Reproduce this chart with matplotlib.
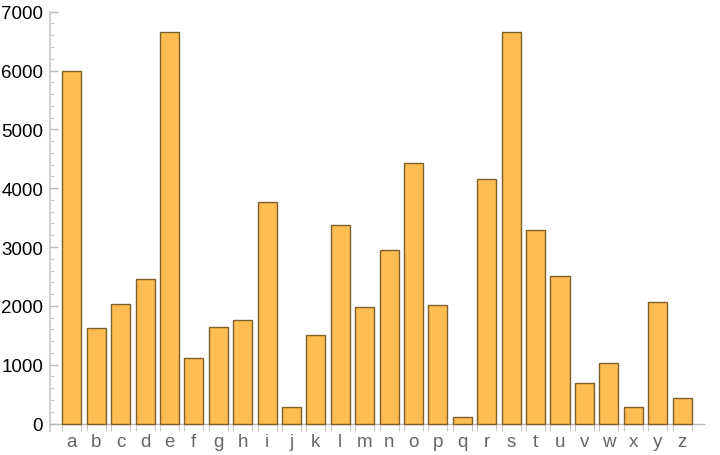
import numpy as np
import matplotlib
matplotlib.use('Agg')
import matplotlib.pyplot as plt

letters = list('abcdefghijklmnopqrstuvwxyz')
counts = [5997, 1626, 2024, 2449, 6660, 1116, 1643, 1762, 3758, 289, 1502, 3367, 1973,
          2953, 4432, 2017, 112, 4155, 6660, 3293, 2510, 690, 1037, 289, 2068, 435]

plt.rcParams['font.family'] = ['Liberation Sans', 'DejaVu Sans']

fig = plt.figure(figsize=(7.2, 4.56), dpi=100)
ax = fig.add_axes([50 / 720, 1 - 432 / 456, 654 / 720, 419.3 / 456])

x = np.arange(1, len(letters) + 1)
width = 0.78
ax.bar(x, counts, width=width, color='#fdbd52', edgecolor='#7d5f2e', linewidth=1.0, zorder=3)

ax.set_xlim(0.107, 26.9)
ax.set_ylim(-127, 7000)

for s in ['top', 'right']:
    ax.spines[s].set_visible(False)
ax.spines['bottom'].set_position(('data', 0))
ax.spines['bottom'].set_color('#b8b8b8')
ax.spines['left'].set_color('#cfcfcf')
ax.spines['left'].set_linewidth(1.4)
ax.spines['bottom'].set_linewidth(1.0)

# y ticks
ax.set_yticks(np.arange(0, 7001, 1000))
ax.set_yticks(np.arange(0, 7001, 200), minor=True)
ax.tick_params(axis='y', which='major', direction='in', length=6, width=1, color='#b8b8b8',
               labelsize=13.5, labelcolor='black', pad=5)
ax.tick_params(axis='y', which='minor', direction='in', length=3, width=0.8, color='#c8c8c8')

# x ticks: labels at centres, tick marks at bar edges
ax.set_xticks(x)
ax.set_xticklabels(letters)
edges = np.concatenate([x - width / 2, x + width / 2])
ax.set_xticks(edges, minor=True)
ax.tick_params(axis='x', which='major', length=0, labelsize=13.5, labelcolor='#666666', pad=7)
ax.tick_params(axis='x', which='minor', direction='out', length=5, width=0.8, color='#c8c8c8')

fig.savefig('out.png', dpi=100)
